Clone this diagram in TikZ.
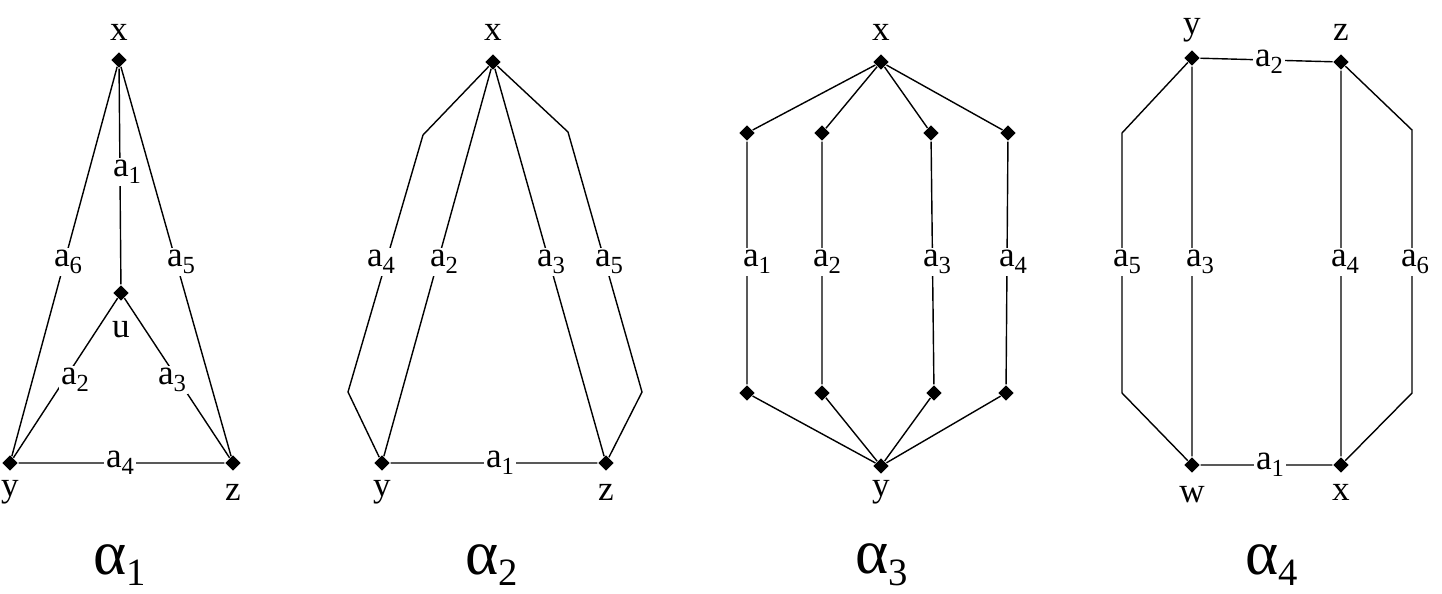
\documentclass[tikz,border=0pt]{standalone}
\usepackage{fontspec}
\setmainfont{Liberation Serif}
\usetikzlibrary{shapes.geometric}
\tikzset{>=latex,
  pt/.style={diamond,fill,inner sep=0pt,minimum size=9pt},
  lab/.style={fill=white,inner sep=1pt,font=\fontsize{20}{22}\selectfont},
  vname/.style={font=\fontsize{20}{22}\selectfont},
  gtitle/.style={font=\fontsize{36}{38}\selectfont},
}
\newcommand{\ai}[1]{a\raisebox{-.45ex}{\fontsize{14}{14}\selectfont #1}}
\newcommand{\al}[1]{α\raisebox{-.4ex}{\fontsize{22}{22}\selectfont #1}}
\begin{document}
\begin{tikzpicture}[x=0.02cm,y=-0.02cm,line width=0.8pt]
\useasboundingbox (0,0) rectangle (1442,594);
% alpha 1
\node[pt] (ax) at (119,60) {};
\node[pt] (au) at (121,293) {};
\node[pt] (ay) at (10,463) {};
\node[pt] (az) at (233,463) {};
\draw (ax) -- (au) (ax) -- (ay) (ax) -- (az) (au) -- (ay) (au) -- (az) (ay) -- (az);
\node[lab] at (127,172) {\ai1};
\node[lab] at (68,262) {\ai6};
\node[lab] at (181,262) {\ai5};
\node[lab] at (75,380) {\ai2};
\node[lab] at (172,380) {\ai3};
\node[lab] at (120,463) {\ai4};
\node[vname] at (119,32) {x};
\node[vname] at (121,330) {u};
\node[vname] at (10,492) {y};
\node[vname] at (233,492) {z};
\node[gtitle] at (120,565) {\al1};
% alpha 2
\node[pt] (bx) at (493,62) {};
\node[pt] (by) at (382,463) {};
\node[pt] (bz) at (606,463) {};
\coordinate (b1) at (423,135);
\coordinate (b2) at (348,392);
\coordinate (b3) at (568,132);
\coordinate (b4) at (642,392);
\draw (bx) -- (b1) -- (b2) -- (by) (bx) -- (by) (bx) -- (bz)
      (bx) -- (b3) -- (b4) -- (bz) (by) -- (bz);
\node[lab] at (381,262) {\ai4};
\node[lab] at (444,262) {\ai2};
\node[lab] at (551,262) {\ai3};
\node[lab] at (609,262) {\ai5};
\node[lab] at (500,463) {\ai1};
\node[vname] at (493,32) {x};
\node[vname] at (382,492) {y};
\node[vname] at (606,492) {z};
\node[gtitle] at (492,565) {\al2};
% alpha 3
\node[pt] (cx) at (881,62) {};
\node[pt] (cy) at (881,466) {};
\foreach \i/\t/\b in {1/747/747,2/822/822,3/931/934,4/1008/1006}{
  \node[pt] (ct\i) at (\t,133) {};
  \node[pt] (cb\i) at (\b,393) {};
  \draw (cx) -- (ct\i) -- (cb\i) -- (cy);
}
\node[lab] at (757,262) {\ai1};
\node[lab] at (827,262) {\ai2};
\node[lab] at (937,262) {\ai3};
\node[lab] at (1013,262) {\ai4};
\node[vname] at (881,32) {x};
\node[vname] at (881,492) {y};
\node[gtitle] at (882,565) {\al3};
% alpha 4
\node[pt] (dy) at (1192,58) {};
\node[pt] (dz) at (1341,62) {};
\node[pt] (dw) at (1192,465) {};
\node[pt] (dx) at (1341,465) {};
\coordinate (d1) at (1122,133);
\coordinate (d2) at (1122,393);
\coordinate (d3) at (1412,130);
\coordinate (d4) at (1412,393);
\draw (dy) -- (dz) (dw) -- (dx) (dy) -- (dw) (dz) -- (dx)
      (dy) -- (d1) -- (d2) -- (dw) (dz) -- (d3) -- (d4) -- (dx);
\node[lab] at (1269,62) {\ai2};
\node[lab] at (1270,465) {\ai1};
\node[lab] at (1200,262) {\ai3};
\node[lab] at (1345,262) {\ai4};
\node[lab] at (1127,262) {\ai5};
\node[lab] at (1415,262) {\ai6};
\node[vname] at (1192,30) {y};
\node[vname] at (1341,32) {z};
\node[vname] at (1192,495) {w};
\node[vname] at (1341,492) {x};
\node[gtitle] at (1272,565) {\al4};
\end{tikzpicture}
\end{document}
